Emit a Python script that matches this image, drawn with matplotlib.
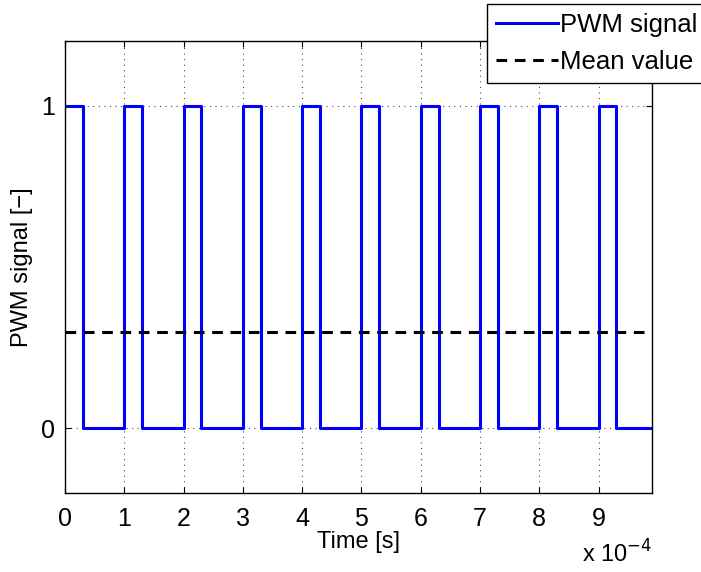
import matplotlib.pyplot as plt
import numpy as np

plt.rcParams['font.family'] = ['Liberation Sans', 'DejaVu Sans']

# switching instants (in units of 1e-4 s) and the level held after each
edge_t = [0.0, 0.3, 1.0, 1.3, 2.0, 2.3, 3.0, 3.3, 4.0, 4.3,
          5.0, 5.3, 6.0, 6.3, 7.0, 7.3, 8.0, 8.3, 9.0, 9.3, 9.9]
edge_level = [1, 0, 1, 0, 1, 0, 1, 0, 1, 0,
              1, 0, 1, 0, 1, 0, 1, 0, 1, 0, 0]
mean_value = 0.3
xticks = [0, 1, 2, 3, 4, 5, 6, 7, 8, 9]
yticks = [0, 1]

scale = 1e-4
t = np.array(edge_t) * scale

fig = plt.figure(figsize=(7.01, 5.72), dpi=100)
ax = fig.add_axes([65 / 701, 1 - 493 / 572, (652 - 65) / 701, (493 - 41) / 572])

ax.step(t, edge_level, where='post', color='blue', lw=2.2, label='PWM signal')
ax.plot([t[0], t[-1]], [mean_value, mean_value], '--', color='black', lw=2.2,
        dashes=(3.5, 2.5), label='Mean value')

ax.set_xlim(0, 9.9e-4)
ax.set_ylim(-0.2, 1.2)
ax.set_xticks(np.array(xticks) * scale)
ax.set_xticklabels([str(v) for v in xticks])
ax.set_yticks(yticks)
ax.tick_params(direction='in', labelsize=18, length=4, top=True, right=True)
ax.tick_params(axis='x', pad=10)
ax.tick_params(axis='y', pad=7)
ax.grid(True, linestyle=(0, (1, 4)), color='black', lw=0.8, alpha=0.7)
for s in ax.spines.values():
    s.set_linewidth(1.0)

ax.set_xlabel('Time [s]', fontsize=17, labelpad=0)
ax.set_ylabel('PWM signal [\u2212]', fontsize=17, labelpad=6)
fig.text(582 / 701, 1 - 554 / 572, r'x 10$^{-4}$', fontsize=17, va='center',
         ha='left', math_fontfamily='dejavusans')

leg = ax.legend(loc='upper left', bbox_to_anchor=(487 / 701, 1 - 4 / 572),
                bbox_transform=fig.transFigure, fontsize=18.5, fancybox=False,
                framealpha=1, edgecolor='black', handlelength=2.4,
                handletextpad=0.1, borderpad=0.35, labelspacing=0.5,
                borderaxespad=0)
leg.get_frame().set_linewidth(1.0)

fig.savefig('out.png', dpi=100)
